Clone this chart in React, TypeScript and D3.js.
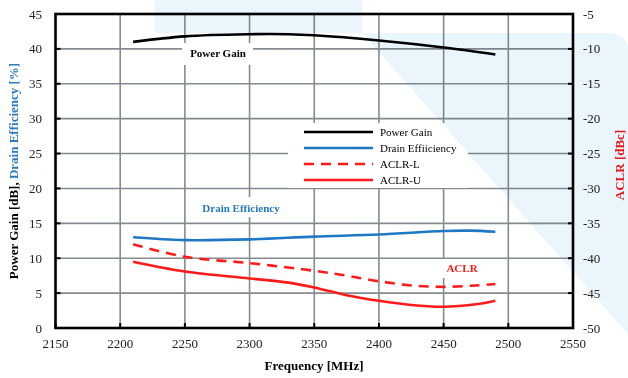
import React from "react";
import * as d3 from "d3";

const freqTicks = [2150, 2200, 2250, 2300, 2350, 2400, 2450, 2500, 2550];
const leftTicks = [0, 5, 10, 15, 20, 25, 30, 35, 40, 45];
const rightTicks = [-50, -45, -40, -35, -30, -25, -20, -15, -10, -5];

const pgFreq = [2210, 2250, 2300, 2330, 2350, 2400, 2450, 2490];
const pgVal = [41.0, 41.8, 42.1, 42.1, 41.95, 41.2, 40.2, 39.2];

const deFreq = [2210, 2250, 2300, 2350, 2400, 2450, 2470, 2490];
const deVal = [13.0, 12.6, 12.7, 13.1, 13.4, 13.9, 13.95, 13.8];

const aclrLFreq = [2210, 2250, 2300, 2350, 2375, 2400, 2425, 2450, 2475, 2490];
const aclrLVal = [-38.0, -39.8, -40.7, -41.8, -42.5, -43.3, -43.9, -44.1, -43.9, -43.7];

const aclrUFreq = [2210, 2250, 2300, 2330, 2350, 2375, 2400, 2425, 2450, 2475, 2490];
const aclrUVal = [-40.5, -41.9, -42.9, -43.5, -44.2, -45.3, -46.1, -46.7, -46.95, -46.6, -46.1];

const legendItems = [
  { label: "Power Gain", color: "#000000", dash: "" },
  { label: "Drain Effiiciency", color: "#1f78c4", dash: "" },
  { label: "ACLR-L", color: "#ff1a1a", dash: "10,7" },
  { label: "ACLR-U", color: "#ff1a1a", dash: "" },
];

const FONT = "'Liberation Serif', 'Times New Roman', serif";

export default function App() {
  const left = 55.5, right = 573, top = 14, bottom = 328;
  const x = d3.scaleLinear().domain([2150, 2550]).range([left, right]);
  const yL = d3.scaleLinear().domain([0, 45]).range([bottom, top]);
  const yR = d3.scaleLinear().domain([-50, -5]).range([bottom, top]);

  const mk = (fx: number[], vals: number[], ys: d3.ScaleLinear<number, number>) =>
    d3
      .line<number>()
      .x((_, i) => x(fx[i]))
      .y((v) => ys(v))
      .curve(d3.curveCatmullRom.alpha(0.5))(vals) || "";

  const gridColor = "#868b90";

  return (
    <svg
      width={628}
      height={378}
      style={{ position: "absolute", left: 0, top: 0, background: "#fff" }}
      fontFamily={FONT}
    >
      {/* grid */}
      {freqTicks.slice(1, -1).map((f) => (
        <line key={"gx" + f} x1={x(f)} x2={x(f)} y1={top} y2={bottom} stroke={gridColor} strokeWidth={1.6} />
      ))}
      {leftTicks.slice(1, -1).map((v) => (
        <line key={"gy" + v} x1={left} x2={right} y1={yL(v)} y2={yL(v)} stroke={gridColor} strokeWidth={1.6} />
      ))}

      {/* annotation boxes */}
      <rect x={182} y={43} width={71} height={22} fill="#fff" />
      <text x={218} y={57} textAnchor="middle" fontSize={11} fontWeight="bold" fill="#000">Power Gain</text>

      <rect x={195} y={197} width={92} height={20} fill="#fff" />
      <text x={241} y={212} textAnchor="middle" fontSize={11} fontWeight="bold" fill="#1f78c4">Drain Efficiency</text>

      <rect x={437} y={259} width={46} height={19} fill="#fff" />
      <text x={462} y={272} textAnchor="middle" fontSize={11} fontWeight="bold" fill="#ff1a1a">ACLR</text>

      {/* data lines */}
      <path d={mk(pgFreq, pgVal, yL)} fill="none" stroke="#000" strokeWidth={2.6} />
      <path d={mk(deFreq, deVal, yL)} fill="none" stroke="#1f78c4" strokeWidth={2.6} />
      <path d={mk(aclrLFreq, aclrLVal, yR)} fill="none" stroke="#ff1a1a" strokeWidth={2.6} strokeDasharray="10,7" />
      <path d={mk(aclrUFreq, aclrUVal, yR)} fill="none" stroke="#ff1a1a" strokeWidth={2.6} />

      {/* legend */}
      <rect x={288} y={123} width={180} height={65} fill="#fff" />
      {legendItems.map((it, i) => {
        const ly = 132 + i * 16;
        return (
          <g key={it.label}>
            <line x1={304} x2={373} y1={ly} y2={ly} stroke={it.color} strokeWidth={2.6} strokeDasharray={it.dash || undefined} />
            <text x={380} y={ly + 4} fontSize={11} fill="#000">{it.label}</text>
          </g>
        );
      })}

      {/* ticks */}
      {leftTicks.map((v) => (
        <line key={"tl" + v} x1={left} x2={left + 5} y1={yL(v)} y2={yL(v)} stroke="#000" strokeWidth={2} />
      ))}
      {rightTicks.map((v) => (
        <line key={"tr" + v} x1={right - 5} x2={right} y1={yR(v)} y2={yR(v)} stroke="#000" strokeWidth={2} />
      ))}
      {freqTicks.map((f) => (
        <line key={"tx" + f} x1={x(f)} x2={x(f)} y1={bottom - 5} y2={bottom} stroke="#000" strokeWidth={2} />
      ))}

      {/* frame */}
      <rect x={left} y={top} width={right - left} height={bottom - top} fill="none" stroke="#000" strokeWidth={2.6} />

      {/* tick labels */}
      {leftTicks.map((v) => (
        <text key={"ll" + v} x={42} y={yL(v) + 4.5} textAnchor="end" fontSize={13} fill="#222">{v}</text>
      ))}
      {rightTicks.map((v) => (
        <text key={"rl" + v} x={583} y={yR(v) + 4.5} textAnchor="start" fontSize={13} fill="#222">{v}</text>
      ))}
      {freqTicks.map((f) => (
        <text key={"xl" + f} x={x(f)} y={348} textAnchor="middle" fontSize={13} fill="#222">{f}</text>
      ))}

      {/* axis titles */}
      <text x={314} y={370} textAnchor="middle" fontSize={13} fontWeight="bold" fill="#000">Frequency [MHz]</text>
      <text transform="translate(18,171) rotate(-90)" textAnchor="middle" fontSize={13} fontWeight="bold">
        <tspan fill="#000">Power Gain [dB], </tspan>
        <tspan fill="#2a7cc4">Drain Efficiency [%]</tspan>
      </text>
      <text transform="translate(624,165) rotate(-90)" textAnchor="middle" fontSize={13} fontWeight="bold" fill="#ff1a1a">ACLR [dBc]</text>

      {/* watermark */}
      <g style={{ mixBlendMode: "multiply" }} fill="#eaf5fc">
        <rect x={155} y={0} width={207} height={33} />
        <path d="M362,33 L606,33 Q628,33 628,52 L628,334 Z" />
      </g>
    </svg>
  );
}
